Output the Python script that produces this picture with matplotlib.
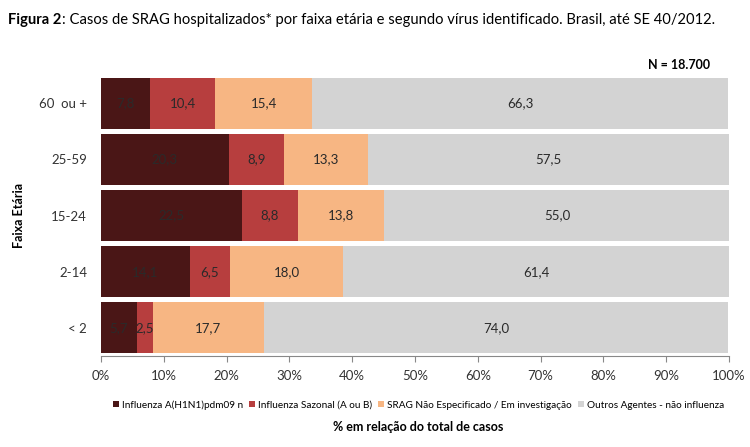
import matplotlib.pyplot as plt
import numpy as np

plt.rcParams['font.family'] = ['Lato', 'DejaVu Sans']

# dados (top -> bottom)
faixas = ["60  ou +", "25-59", "15-24", "2-14", "< 2"]
h1n1 = [7.8, 20.3, 22.5, 14.1, 5.7]
sazonal = [10.4, 8.9, 8.8, 6.5, 2.5]
nao_espec = [15.4, 13.3, 13.8, 18.0, 17.7]
outros = [66.3, 57.5, 55.0, 61.4, 74.0]

series = [h1n1, sazonal, nao_espec, outros]
nomes = ["Influenza A(H1N1)pdm09 n", "Influenza Sazonal (A ou B)",
         "SRAG Não Especificado / Em investigação", "Outros Agentes - não influenza"]
cores = ["#4a1616", "#b73e3e", "#f7b683", "#d3d3d3"]

fig = plt.figure(figsize=(7.5, 4.47), dpi=100)
ax = fig.add_axes([0.1347, 0.2036, 0.9720 - 0.1347, 0.832 - 0.2036])

y = np.arange(len(faixas))
left = np.zeros(len(faixas))
for vals, nome, cor in zip(series, nomes, cores):
    vals = np.array(vals)
    ax.barh(y, vals, left=left, height=0.91, color=cor, label=nome, edgecolor='none')
    for yi, l, v in zip(y, left, vals):
        ax.text(l + v / 2, yi, f"{v:.1f}".replace('.', ','), ha='center', va='center',
                fontsize=9.5, color='#2a2a2a')
    left += vals

ax.set_xlim(0, 100)
ax.set_ylim(4.5, -0.5)
ax.set_yticks(y)
ax.set_yticklabels(faixas, fontsize=9.5, color='#333333')
ax.set_xticks(np.arange(0, 101, 10))
ax.set_xticklabels([f"{v}%" for v in range(0, 101, 10)], fontsize=9.5, color='#333333')
ax.tick_params(axis='y', length=0, pad=10)
ax.tick_params(axis='x', length=4, color='#888888', pad=6)
for s in ['top', 'right', 'left']:
    ax.spines[s].set_visible(False)
ax.spines['bottom'].set_color('#888888')

ax.set_ylabel("Faixa Etária", fontsize=9, fontweight='bold', labelpad=10)

fig.text(0.0107, 0.955, "Figura 2", fontsize=10.6, fontweight='bold', va='center')
fig.text(0.083, 0.955, ": Casos de SRAG hospitalizados* por faixa etária e segundo vírus identificado. Brasil, até SE 40/2012.",
         fontsize=10.6, va='center')
fig.text(0.947, 0.855, "N = 18.700", fontsize=9, fontweight='bold', ha='right', va='center')

fig.legend(loc='center', bbox_to_anchor=(0.558, 0.094), ncol=4, frameon=False, fontsize=7.2,
           handlelength=0.6, handleheight=0.6, handletextpad=0.3, columnspacing=0.6)
fig.text(0.558, 0.045, "% em relação do total de casos", fontsize=9, fontweight='bold',
         ha='center', va='center')

fig.savefig("out.png", dpi=100)
